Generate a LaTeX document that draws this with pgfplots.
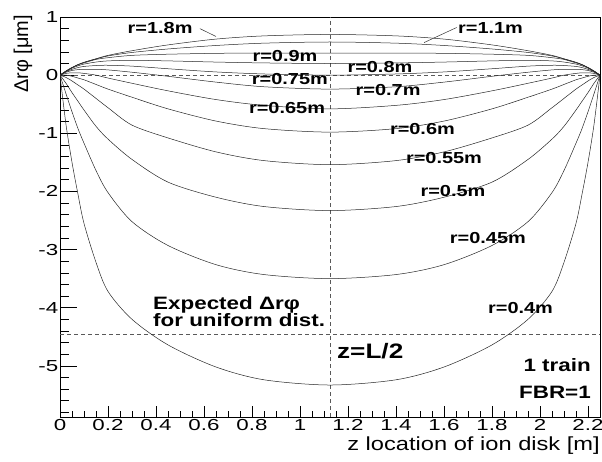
\documentclass[border=0pt]{standalone}
\usepackage{fontspec}
\setmainfont{Liberation Sans}
\newfontfamily\wfont{Liberation Sans}[FakeStretch=1.25]
\newfontfamily\tfont{Liberation Sans}[FakeStretch=1.4]
\usepackage{pgfplots}
\pgfplotsset{compat=1.18}
\usepackage{pgfplotstable}

\pgfplotstableread{
z     r18   r11   r09   r08   r075  r07   r065  r06   r055  r05   r045  r04
0     0     0     0     0     0     0     0     0     0     0     0     0
0.025 0.07  0.07  0.07  0.065 0.06  0.05  0.03  0.0   -0.04 -0.14 -0.32 -0.85
0.05  0.13  0.13  0.13  0.12  0.10  0.08  0.04  -0.02 -0.10 -0.30 -0.63 -1.50
0.075 0.18  0.18  0.18  0.16  0.13  0.095 0.04  -0.05 -0.17 -0.45 -0.92 -2.05
0.1   0.22  0.22  0.21  0.19  0.15  0.10  0.03  -0.08 -0.24 -0.60 -1.17 -2.55
0.15  0.28  0.28  0.27  0.225 0.165 0.10  0.0   -0.16 -0.40 -0.88 -1.64 -3.22
0.2   0.34  0.33  0.30  0.245 0.17  0.09  -0.05 -0.24 -0.56 -1.10 -2.02 -3.72
0.3   0.42  0.39  0.34  0.255 0.155 0.05  -0.14 -0.38 -0.86 -1.45 -2.52 -4.20
0.45  0.52  0.45  0.36  0.245 0.11  -0.02 -0.27 -0.58 -1.08 -1.84 -2.93 -4.64
0.65  0.62  0.51  0.375 0.225 0.055 -0.12 -0.42 -0.79 -1.32 -2.10 -3.26 -5.02
0.85  0.675 0.55  0.38  0.21  0.02  -0.20 -0.52 -0.92 -1.47 -2.26 -3.43 -5.24
1.125 0.70  0.57  0.38  0.20  0.0   -0.24 -0.58 -0.98 -1.54 -2.33 -3.50 -5.33
1.4   0.675 0.55  0.38  0.21  0.02  -0.20 -0.52 -0.92 -1.47 -2.26 -3.43 -5.24
1.6   0.62  0.51  0.375 0.225 0.055 -0.12 -0.42 -0.79 -1.32 -2.10 -3.26 -5.02
1.8   0.52  0.45  0.36  0.245 0.11  -0.02 -0.27 -0.58 -1.08 -1.84 -2.93 -4.64
1.95  0.42  0.39  0.34  0.255 0.155 0.05  -0.14 -0.38 -0.86 -1.45 -2.52 -4.20
2.05  0.34  0.33  0.30  0.245 0.17  0.09  -0.05 -0.24 -0.56 -1.10 -2.02 -3.72
2.1   0.28  0.28  0.27  0.225 0.165 0.10  0.0   -0.16 -0.40 -0.88 -1.64 -3.22
2.15  0.22  0.22  0.21  0.19  0.15  0.10  0.03  -0.08 -0.24 -0.60 -1.17 -2.55
2.175 0.18  0.18  0.18  0.16  0.13  0.095 0.04  -0.05 -0.17 -0.45 -0.92 -2.05
2.2   0.13  0.13  0.13  0.12  0.10  0.08  0.04  -0.02 -0.10 -0.30 -0.63 -1.50
2.225 0.07  0.07  0.07  0.065 0.06  0.05  0.03  0.0   -0.04 -0.14 -0.32 -0.85
2.25  0     0     0     0     0     0     0     0     0     0     0     0
}\curves

\begin{document}
\begin{tikzpicture}
\useasboundingbox (0,0) rectangle (602bp,462bp);
\begin{axis}[
  at={(60bp,45bp)}, anchor=south west, scale only axis,
  width=540bp, height=400bp,
  xmin=0, xmax=2.25, ymin=-5.88, ymax=1,
  xtick={0,0.2,...,2.2}, ytick={-5,-4,...,1},
  minor xtick={0,0.05,...,2.25}, minor ytick={-5.8,-5.6,...,0.9},
  tick align=inside, tick pos=left,
  major tick length=11bp, minor tick length=6bp,
  ytick style={/pgfplots/major tick length=17bp, /pgfplots/minor tick length=9bp},
  /pgf/number format/assume math mode=true,
  ticklabel style={font=\tfont\fontsize{16}{18}\selectfont},
  xticklabel style={inner ysep=2.5bp},
  yticklabel style={inner xsep=1.5bp},
  axis line style={line width=0.8bp},
  every tick/.style={black, line width=0.6bp},
]
\addplot[gray!70!black, dash pattern=on 4bp off 3bp, line width=0.6bp] coordinates {(0,0) (2.25,0)};
\addplot[gray!70!black, dash pattern=on 4bp off 3bp, line width=0.6bp] coordinates {(0,-4.45) (2.25,-4.45)};
\addplot[gray!70!black, dash pattern=on 4bp off 3bp, line width=0.6bp] coordinates {(1.125,-5.88) (1.125,1)};

\pgfplotsinvokeforeach{r18,r11,r09,r08,r075,r07,r065,r06,r055,r05,r045,r04}{
  \addplot[black!85, line width=0.5bp, smooth] table[x=z, y=#1] {\curves};
}

\draw[black!80, line width=0.5bp] (axis cs:0.583,0.80) -- (axis cs:0.65,0.665);
\draw[black!80, line width=0.5bp] (axis cs:1.653,0.82) -- (axis cs:1.517,0.56);

\begin{scope}[every node/.style={font=\wfont\bfseries\fontsize{16}{18}\selectfont, inner sep=0}]
\node at (axis cs:0.417,0.81) {r=1.8m};
\node at (axis cs:1.794,0.81) {r=1.1m};
\node at (axis cs:0.9375,0.33) {r=0.9m};
\node at (axis cs:1.333,0.137) {r=0.8m};
\node at (axis cs:0.958,-0.063) {r=0.75m};
\node at (axis cs:1.367,-0.249) {r=0.7m};
\node at (axis cs:0.946,-0.557) {r=0.65m};
\node at (axis cs:1.51,-0.92) {r=0.6m};
\node at (axis cs:1.6,-1.42) {r=0.55m};
\node at (axis cs:1.6375,-2.0) {r=0.5m};
\node at (axis cs:1.783,-2.80) {r=0.45m};
\node at (axis cs:1.919,-4.0) {r=0.4m};
\end{scope}

\node[font=\wfont\bfseries\fontsize{18}{17}\selectfont, align=left, anchor=west, inner sep=0]
  at (axis cs:0.3875,-4.07) {Expected Δrφ\\for uniform dist.};
\node[font=\wfont\bfseries\fontsize{21}{24}\selectfont, anchor=west, inner sep=0]
  at (axis cs:1.154,-4.75) {z=L/2};
\node[font=\wfont\bfseries\fontsize{18}{20}\selectfont, anchor=east, inner sep=0]
  at (axis cs:2.2125,-4.99) {1 train};
\node[font=\wfont\bfseries\fontsize{18}{20}\selectfont, anchor=east, inner sep=0]
  at (axis cs:2.2125,-5.46) {FBR=1};
\end{axis}
\node[anchor=east, inner sep=0, font=\wfont\fontsize{19}{22}\selectfont] at (600bp,16bp) {z location of ion disk [m]};
\node[rotate=90, anchor=east, inner sep=0, font=\fontsize{20}{22}\selectfont] at (23bp,447bp) {Δrφ [μm]};
\end{tikzpicture}
\end{document}
